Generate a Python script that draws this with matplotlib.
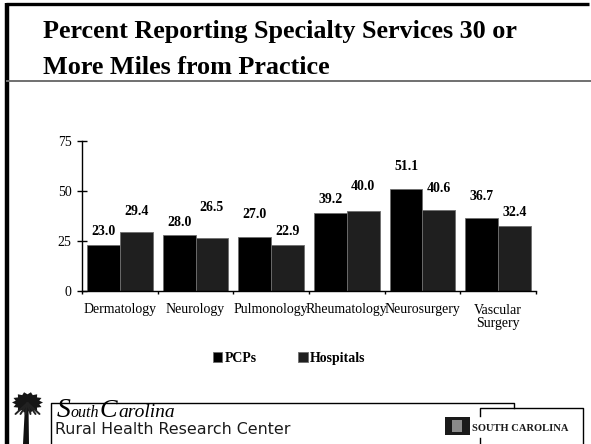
import numpy as np
import matplotlib
matplotlib.use("Agg")
import matplotlib.pyplot as plt
from matplotlib.patches import Polygon, Rectangle

# Data
categories = ["Dermatology", "Neurology", "Pulmonology", "Rheumatology",
              "Neurosurgery", "Vascular\nSurgery"]
pcps = [23.0, 28.0, 27.0, 39.2, 51.1, 36.7]
hospitals = [29.4, 26.5, 22.9, 40.0, 40.6, 32.4]
yticks = [0, 25, 50, 75]

# label lift above bar tops (pixels), as laid out in the original slide
lift_pcp = [10, 9, 19, 10, 19, 18]
lift_hosp = [17, 27, 10, 21, 18, 10]

W, H = 591, 444
serif = "Liberation Serif"

fig = plt.figure(figsize=(W / 100, H / 100), dpi=100)


def fx(x):
    return x / W


def fy(y):
    return 1 - y / H


# Chart
ax = fig.add_axes([fx(82), fy(291), fx(536) - fx(82), fy(141) - fy(291)])
x = np.arange(len(categories))
bw = 0.432
b1 = ax.bar(x - bw / 2, pcps, bw, color="#000000", edgecolor="#6e6e6e",
            linewidth=0.6, label="PCPs")
b2 = ax.bar(x + bw / 2, hospitals, bw, color="#1f1f1f", edgecolor="#6e6e6e",
            linewidth=0.6, label="Hospitals")

for rect, v, lift in zip(b1, pcps, lift_pcp):
    ax.annotate(f"{v:.1f}", (rect.get_x() + rect.get_width() / 2, v),
                xytext=(0, lift * 0.72), textcoords="offset points",
                ha="center", va="baseline", fontsize=10, fontweight="bold",
                family=serif)
for rect, v, lift in zip(b2, hospitals, lift_hosp):
    ax.annotate(f"{v:.1f}", (rect.get_x() + rect.get_width() / 2, v),
                xytext=(0, lift * 0.72), textcoords="offset points",
                ha="center", va="baseline", fontsize=10, fontweight="bold",
                family=serif)

ax.set_xlim(-0.5, len(categories) - 0.5)
ax.set_ylim(0, 75)
ax.set_yticks(yticks)
ax.set_yticklabels([str(t) for t in yticks], family=serif, fontsize=10)
ax.tick_params(axis="y", direction="inout", length=7, width=1, pad=4)
ax.set_xticks(x)
ax.set_xticklabels(categories, family=serif, fontsize=10, linespacing=1.1)
ax.set_xticks(np.arange(len(categories) + 1) - 0.5, minor=True)
ax.tick_params(axis="x", which="major", length=0, pad=9)
ax.tick_params(axis="x", which="minor", direction="out", length=2.5, width=1)
for s in ["top", "right"]:
    ax.spines[s].set_visible(False)
ax.spines["left"].set_linewidth(1)
ax.spines["bottom"].set_linewidth(1)

fig.legend(handles=[b1, b2], labels=["PCPs", "Hospitals"], loc="center",
           bbox_to_anchor=(fx(289), fy(358)), ncol=2, frameon=False,
           prop={"family": serif, "weight": "bold", "size": 10},
           handlelength=0.7, handleheight=0.7, handletextpad=0.15,
           columnspacing=3.0)

# Slide decorations, drawn in pixel coordinates
over = fig.add_axes([0, 0, 1, 1], facecolor="none", zorder=-1)
over.set_xlim(0, W)
over.set_ylim(H, 0)
over.axis("off")

over.plot([7, 7], [3, H], color="black", lw=3.2, solid_capstyle="butt")
over.plot([6, 589], [4.5, 4.5], color="black", lw=2.4, solid_capstyle="butt")
over.plot([7, 591], [81, 81], color="#707070", lw=1.4)

fig.text(fx(43), fy(38), "Percent Reporting Specialty Services 30 or",
         family=serif, fontweight="bold", fontsize=18.8, va="baseline")
fig.text(fx(43), fy(74), "More Miles from Practice",
         family=serif, fontweight="bold", fontsize=18.8, va="baseline")

# footer boxes
over.plot([51, 51, 514, 514], [H, 402.5, 402.5, 408], color="black", lw=1)
over.plot([480, 480, 583, 583], [416, 408, 408, H], color="black", lw=1)
over.plot([480, 480], [438, H], color="black", lw=1)

# palm tree: bushy crown and tapered trunk
over.add_patch(Polygon([[23, H], [29, H], [28.5, 405], [25, 405]],
                       closed=True, color="#111111", lw=0))
t = np.linspace(0, 2 * np.pi, 29)[:-1]
r = np.where(np.arange(28) % 2 == 0, 1.0, 0.78)
crown = np.column_stack([27.5 + 15.5 * r * np.cos(t),
                         402.5 + 10.5 * r * np.sin(t)])
over.add_patch(Polygon(crown, closed=True, color="#161616", lw=0))
for dx in [-12, -7, -2, 3, 8, 12]:
    over.plot([27.5, 27.5 + dx], [403, 414], color="#222222", lw=1.4,
              solid_capstyle="round")

# South Carolina script text
it = dict(family=serif, style="italic", va="baseline", color="black")
fig.text(fx(57), fy(417), "S", fontsize=20, **it)
fig.text(fx(71), fy(417), "outh", fontsize=11.5, **it)
fig.text(fx(100), fy(417), "C", fontsize=19, **it)
fig.text(fx(118), fy(417), "arolina", fontsize=14, **it)
fig.text(fx(55), fy(434), "Rural Health Research Center", family="DejaVu Sans",
         fontsize=11.4, va="baseline", color="#1a1a1a")

# right logo
over.add_patch(Rectangle((445, 417), 25, 18, color="#1a1a1a", lw=0))
over.add_patch(Rectangle((452, 420), 10, 12, color="#8a8a8a", lw=0))
fig.text(fx(472), fy(431), "SOUTH CAROLINA", family=serif, fontweight="bold",
         fontsize=7.6, va="baseline", color="#1a1a1a")

fig.savefig("out.png", dpi=100)
